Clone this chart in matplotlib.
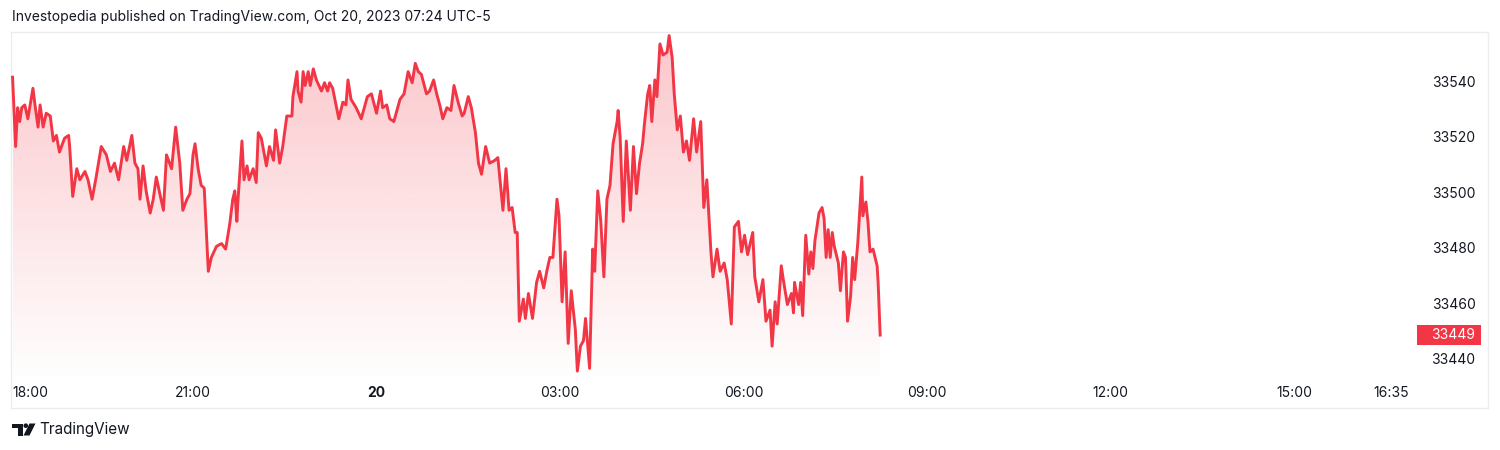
import matplotlib
matplotlib.use("Agg")
import matplotlib.pyplot as plt
import numpy as np
from matplotlib.patches import Rectangle, Polygon, Circle
from matplotlib.transforms import blended_transform_factory

plt.rcParams['font.family'] = ['Inter', 'DejaVu Sans']

# ---- data: minutes after 18:00 (Oct 19) and price ----
minutes = [3, 6, 8, 10, 12, 15, 18, 23, 25, 28, 30, 33, 36, 40, 43, 46, 49, 54, 58, 59,
           62, 66, 69, 74, 77, 81, 85, 90, 95, 99, 103, 107, 112, 115, 120, 123, 126, 128, 131, 134,
           138, 141, 144, 148, 151, 154, 159, 163, 167, 170, 174, 177, 180, 182, 185, 188, 191, 195, 198, 203,
           208, 212, 216, 219, 221, 223, 224, 228, 230, 233, 235, 239, 242, 244, 247, 252, 255, 259, 261, 265,
           268, 272, 277, 278, 282, 283, 286, 288, 290, 293, 295, 298, 301, 306, 309, 312, 314, 317, 323, 327,
           330, 332, 335, 340, 345, 351, 355, 360, 364, 366, 370, 373, 377, 383, 387, 391, 395, 398, 401, 404,
           409, 412, 416, 419, 422, 425, 429, 433, 436, 440, 444, 446, 450, 453, 457, 460, 463, 467, 471, 476,
           479, 484, 487, 490, 493, 496, 498, 500, 504, 506, 509, 513, 517, 520, 524, 527, 530, 533, 537, 539,
           542, 545, 548, 551, 555, 557, 560, 563, 565, 569, 572, 574, 577, 580, 583, 586, 589, 592, 596, 597,
           599, 602, 605, 609, 612, 615, 618, 621, 623, 626, 628, 630, 633, 635, 638, 641, 645, 647, 650, 652,
           655, 658, 661, 664, 667, 671, 674, 678, 681, 684, 688, 690, 694, 697, 701, 704, 708, 711, 715, 718,
           721, 724, 729, 731, 735, 739, 742, 746, 748, 751, 753, 757, 759, 763, 767, 769, 770, 774, 776, 778,
           781, 784, 786, 788, 790, 794, 797, 799, 801, 803, 805, 807, 809, 813, 815, 818, 820, 822, 825, 827,
           829, 832, 836, 837, 840, 842, 844, 847, 851, 852, 854]
prices = [33542, 33517, 33531, 33526, 33531, 33532, 33527, 33538, 33532, 33524, 33532, 33524, 33529, 33528, 33519, 33521, 33515, 33520, 33521, 33517,
          33499, 33509, 33505, 33508, 33505, 33498, 33506, 33517, 33514, 33508, 33511, 33505, 33517, 33512, 33521, 33511, 33509, 33498, 33510, 33501,
          33493, 33498, 33506, 33499, 33494, 33514, 33509, 33524, 33511, 33494, 33498, 33500, 33514, 33518, 33509, 33503, 33502, 33472, 33477, 33481,
          33482, 33480, 33489, 33498, 33501, 33490, 33497, 33519, 33505, 33510, 33505, 33509, 33504, 33522, 33520, 33510, 33517, 33512, 33523, 33511,
          33517, 33528, 33528, 33535, 33544, 33537, 33533, 33544, 33539, 33544, 33539, 33545, 33541, 33537, 33540, 33537, 33540, 33538, 33527, 33533,
          33532, 33541, 33534, 33531, 33527, 33535, 33536, 33529, 33537, 33531, 33532, 33527, 33526, 33534, 33536, 33544, 33540, 33547, 33544, 33543,
          33536, 33537, 33541, 33536, 33532, 33527, 33531, 33530, 33539, 33533, 33528, 33529, 33535, 33531, 33522, 33511, 33507, 33517, 33511, 33512,
          33513, 33494, 33509, 33494, 33495, 33486, 33486, 33454, 33462, 33455, 33464, 33455, 33468, 33472, 33466, 33472, 33477, 33477, 33498, 33492,
          33461, 33479, 33446, 33465, 33451, 33436, 33445, 33447, 33455, 33437, 33480, 33472, 33501, 33490, 33470, 33498, 33503, 33518, 33526, 33530,
          33520, 33490, 33519, 33494, 33517, 33500, 33511, 33518, 33526, 33536, 33539, 33526, 33541, 33535, 33554, 33550, 33551, 33557, 33549, 33536,
          33523, 33528, 33515, 33519, 33512, 33527, 33515, 33526, 33495, 33505, 33479, 33470, 33480, 33472, 33475, 33469, 33453, 33488, 33490, 33479,
          33485, 33478, 33486, 33470, 33461, 33469, 33454, 33458, 33445, 33461, 33453, 33474, 33469, 33460, 33464, 33457, 33468, 33460, 33468, 33456,
          33485, 33471, 33479, 33473, 33483, 33493, 33495, 33491, 33477, 33487, 33477, 33486, 33481, 33475, 33465, 33479, 33477, 33454, 33463, 33477,
          33469, 33482, 33506, 33492, 33497, 33490, 33479, 33480, 33474, 33468, 33449]

x_tick_pos = [180, 360, 540, 720, 900, 1080, 1260, 1355]
x_tick_labels = ["21:00", "20", "03:00", "06:00", "09:00", "12:00", "15:00", "16:35"]
y_ticks = [33440, 33460, 33480, 33500, 33520, 33540]
last_price = 33449

title = "Investopedia published on TradingView.com, Oct 20, 2023 07:24 UTC-5"

RED = "#F23645"
TXT = "#131722"
FRAME = "#ECECEF"

W, H = 1500, 450
fig = plt.figure(figsize=(15, 4.5), dpi=100)
fig.patch.set_facecolor("white")

# main axes: frame box 11..1488 x 32..408 px
ax = fig.add_axes([11 / W, (H - 408) / H, 1477 / W, 376 / H])
ax.set_xlim(1.47, 1450.2)
ax.set_ylim(33422.7, 33558.3)
for s in ax.spines.values():
    s.set_color(FRAME)
    s.set_linewidth(1)
ax.set_xticks([])
ax.set_yticks([])

x = np.array(minutes, dtype=float)
y = np.array(prices, dtype=float)

pane_bottom = 33434.6
ymax_img = 33558.3
# gradient fill clipped to area under the line
grad = np.linspace(0.0, 1.0, 256)
rgba = np.zeros((256, 1, 4))
rgba[..., 0] = 242 / 255
rgba[..., 1] = 54 / 255
rgba[..., 2] = 69 / 255
rgba[:, 0, 3] = 0.01 + 0.28 * grad ** 1.05
im = ax.imshow(rgba, extent=[x.min(), x.max(), pane_bottom, ymax_img], origin="lower",
               aspect="auto", zorder=1, interpolation="bilinear")
verts = np.vstack([[x[0], pane_bottom], np.column_stack([x, y]), [x[-1], pane_bottom]])
clip = Polygon(verts, closed=True, facecolor="none", edgecolor="none", transform=ax.transData)
ax.add_patch(clip)
im.set_clip_path(clip)

ax.plot(x, y, color=RED, lw=2.1, zorder=3, solid_joinstyle="round")

# y labels on right
tr_y = blended_transform_factory(ax.transAxes, ax.transData)
for v in y_ticks:
    ax.text(0.9915, v, f"{v}", transform=tr_y, ha="right", va="center", fontsize=10, color=TXT)

# last price tag
box_h = 20 / 2.773
ax.add_patch(Rectangle(((1417 - 11) / 1477, last_price - box_h / 2), 64 / 1477, box_h,
                       transform=tr_y, facecolor=RED, edgecolor="none", zorder=4))
ax.text(0.9915, last_price, f"{last_price}", transform=tr_y, ha="right", va="center",
        fontsize=10, color="white", zorder=5)

# x labels
tr_x = blended_transform_factory(ax.transData, ax.transAxes)
ax.text(0.0012, 0.04, "18:00", transform=ax.transAxes, ha="left", va="center", fontsize=10, color=TXT)
for p, lab in zip(x_tick_pos, x_tick_labels):
    ax.text(p, 0.04, lab, transform=tr_x, ha="center", va="center", fontsize=10, color=TXT,
            fontweight="bold" if lab == "20" else "normal")

# overlay for header / footer
ov = fig.add_axes([0, 0, 1, 1], zorder=-1)
ov.set_xlim(0, W)
ov.set_ylim(H, 0)
ov.axis("off")
ov.text(12, 17.5, title, ha="left", va="center", fontsize=10, color=TXT)

# TradingView logo
ov.add_patch(Polygon([[12, 423.5], [22.5, 423.5], [22.5, 435.5], [17.5, 435.5], [17.5, 428], [12, 428]],
                     closed=True, facecolor=TXT, edgecolor="none"))
ov.add_patch(Circle((25.8, 425.7), 2.3, facecolor=TXT, edgecolor="none"))
ov.add_patch(Polygon([[29.5, 423.5], [35.5, 423.5], [29.5, 435.5], [23.5, 435.5]],
                     closed=True, facecolor=TXT, edgecolor="none"))
ov.text(39.5, 429.5, "TradingView", ha="left", va="center", fontsize=11, color=TXT)

fig.savefig("out.png", dpi=100, facecolor="white")
